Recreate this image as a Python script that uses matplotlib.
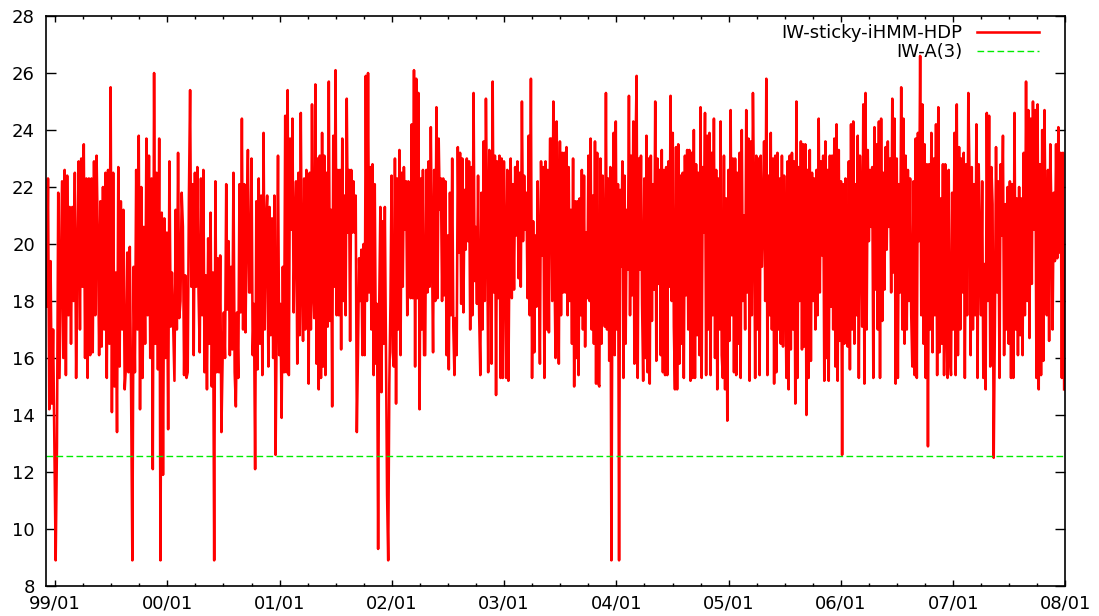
import numpy as np
import matplotlib
matplotlib.use("Agg")
import matplotlib.pyplot as plt
from matplotlib.ticker import MultipleLocator, FuncFormatter

# values, one list per stretch of time
SEGMENT_EDGES = [1998.926, 2000.053, 2001.179, 2002.297, 2003.419,
                 2004.541, 2005.663, 2006.785, 2007.988]

seg_1999 = [17.8, 22.3, 14.2, 19.4, 14.4, 17.0, 13.1, 8.9, 12.9, 21.8, 15.3, 18.8, 22.2, 16.0, 22.6,
            15.4, 22.4, 17.5, 21.3, 16.5, 21.3, 18.0, 22.5, 15.3, 19.6, 22.9, 17.0, 23.0, 18.5,
            23.5, 16.0, 22.3, 15.3, 22.3, 16.1, 22.3, 16.2, 22.9, 17.5, 23.1, 20.2, 16.1, 21.5,
            16.4, 22.0, 17.0, 22.5, 15.3, 22.6, 16.5, 25.5, 14.1, 22.5, 15.0, 19.0, 13.4, 22.7,
            15.7, 21.5, 17.0, 21.2, 14.9, 15.7, 19.7, 15.5, 19.9, 14.9, 8.9, 19.2, 15.5, 22.6,
            17.0, 23.8, 14.2, 22.0, 15.3, 20.6, 16.5, 23.7, 17.5, 23.1, 16.0, 22.3, 12.1, 26.0,
            16.5, 22.5, 15.6, 23.7, 8.9, 21.1, 11.9, 20.9, 16.0, 20.4, 13.5, 22.9, 17.1, 19.0]

seg_2000 = [17.1, 15.2, 21.2, 17.0, 23.2, 17.4, 18.0, 21.8, 20.6, 15.4, 18.9, 15.3, 15.5, 21.6,
            25.4, 18.5, 22.1, 16.1, 22.5, 18.5, 22.7, 18.3, 16.2, 22.3, 17.5, 22.6, 15.5, 18.9,
            14.9, 20.2, 16.5, 21.1, 15.0, 19.0, 8.9, 22.2, 15.5, 19.5, 15.5, 19.6, 13.4, 16.0,
            17.6, 16.0, 22.1, 17.7, 20.1, 16.1, 19.2, 16.3, 22.5, 15.5, 14.3, 17.6, 15.3, 22.1,
            17.6, 24.4, 17.0, 22.1, 16.9, 20.6, 23.3, 18.3, 18.3, 23.0, 16.1, 17.9, 12.1, 21.5,
            15.6, 22.3, 16.5, 21.7, 15.4, 23.9, 17.0, 20.7, 21.7, 15.7, 21.3, 16.8, 20.9, 16.0,
            21.7, 12.6, 17.6, 23.1, 16.1, 17.9, 13.9, 19.2, 15.5, 24.5, 15.5, 25.4, 15.4, 23.7,
            20.5, 24.4, 17.6, 20.6, 22.2, 15.8, 22.5]

seg_2001 = [16.8, 24.6, 18.8, 16.6, 22.3, 17.0, 22.6, 20.8, 15.1, 22.5, 17.0, 24.9, 18.3, 17.4,
            25.6, 15.8, 23.0, 14.9, 23.1, 15.3, 23.9, 15.7, 23.1, 15.4, 22.5, 17.1, 25.7, 17.3,
            21.2, 14.3, 23.8, 18.5, 26.1, 17.5, 22.6, 17.5, 22.6, 16.3, 23.7, 18.0, 21.7, 17.5,
            25.1, 20.4, 22.6, 16.6, 22.6, 20.4, 22.2, 20.4, 21.7, 13.4, 16.1, 19.5, 18.0, 19.8,
            16.1, 20.0, 16.1, 25.9, 18.0, 26.0, 18.3, 22.7, 17.0, 22.8, 15.4, 22.1, 15.8, 17.9,
            9.3, 17.9, 21.3, 14.8, 20.8, 16.5, 21.3, 16.0, 11.2, 8.9, 15.1, 17.9, 22.4, 16.2,
            15.7, 23.0, 14.4, 22.3, 17.0, 23.3, 16.1, 22.5, 18.5, 22.7, 20.5, 22.2, 17.5, 22.2,
            19.2, 18.1, 24.2, 18.1, 26.1, 15.7, 25.8, 18.1, 25.3, 14.2, 22.3, 17.0, 22.6, 16.1]

seg_2002 = [16.1, 22.6, 18.3, 22.9, 18.5, 24.1, 19.8, 16.2, 22.6, 18.0, 24.8, 18.1, 23.7, 21.2,
            22.3, 18.0, 22.3, 18.2, 22.2, 16.1, 20.3, 15.6, 21.8, 17.5, 23.0, 17.1, 15.4, 17.4,
            16.1, 23.4, 19.7, 23.2, 17.9, 23.0, 17.6, 21.9, 19.8, 23.0, 20.1, 22.9, 17.0, 22.7,
            17.5, 25.3, 18.7, 20.6, 17.9, 22.4, 17.5, 15.4, 21.8, 17.0, 23.6, 18.0, 25.1, 21.0,
            15.5, 23.3, 21.2, 15.8, 25.7, 18.3, 23.1, 14.7, 22.9, 18.1, 23.1, 15.3, 23.0, 15.3,
            22.9, 20.0, 15.3, 22.6, 15.2, 20.1, 23.0, 18.1, 22.1, 18.4, 22.7, 20.3, 22.9, 18.8,
            22.5, 18.5, 25.0, 20.1, 22.4, 20.5, 21.8, 18.1, 23.8, 17.5, 25.8, 15.3, 20.8, 16.2,
            20.3, 17.8, 22.2, 19.5, 15.8, 22.9, 19.6, 22.7, 15.3, 22.9, 17.0, 22.6, 16.9, 23.7]

seg_2003 = [23.7, 18.0, 25.0, 19.2, 16.0, 24.3, 20.4, 15.8, 23.6, 17.5, 23.2, 18.3, 23.2, 18.3,
            23.4, 17.5, 22.7, 18.0, 21.2, 16.5, 23.0, 15.0, 21.5, 16.0, 21.5, 15.4, 21.6, 17.5,
            22.6, 17.0, 22.4, 16.4, 20.4, 18.1, 23.1, 18.0, 23.7, 17.0, 21.7, 16.5, 23.6, 15.1,
            23.2, 15.1, 15.0, 23.0, 16.5, 22.4, 18.3, 17.1, 25.3, 17.0, 22.3, 15.9, 22.7, 8.9,
            19.9, 23.9, 16.1, 24.3, 17.0, 22.1, 8.9, 21.9, 19.2, 22.9, 15.3, 22.4, 16.5, 21.2,
            19.1, 25.2, 17.5, 23.1, 18.2, 24.3, 15.8, 23.2, 25.9, 15.3, 23.0, 19.1, 23.1, 17.9,
            15.2, 22.3, 16.0, 23.8, 15.5, 23.0, 15.1, 23.1, 17.3, 22.1, 18.4, 25.0, 15.9, 23.0,
            18.6, 22.6, 16.1, 23.3, 15.5, 22.6, 15.4, 22.7, 15.4, 22.9, 18.5, 25.2, 18.0, 23.9,
            17.1, 14.9, 23.4]

seg_2004 = [14.9, 23.5, 15.8, 22.4, 16.5, 22.5, 15.3, 23.1, 18.2, 23.3, 17.0, 23.3, 15.2, 23.2,
            15.3, 24.0, 15.3, 22.8, 16.8, 22.5, 16.1, 24.8, 15.3, 22.7, 20.4, 24.6, 15.4, 23.8,
            17.0, 23.9, 15.4, 23.2, 17.5, 24.4, 16.0, 22.6, 14.9, 22.3, 17.0, 24.3, 16.1, 15.3,
            23.1, 14.9, 21.6, 13.8, 22.6, 16.6, 24.7, 17.5, 23.0, 15.5, 23.0, 15.4, 22.5, 16.5,
            23.2, 15.3, 24.0, 18.0, 21.0, 17.0, 24.7, 18.3, 23.7, 15.2, 23.6, 17.5, 25.3, 21.6,
            15.3, 23.1, 17.0, 23.0, 15.4, 23.1, 19.2, 20.9, 23.6, 18.0, 25.8, 15.4, 22.4, 17.5,
            23.9, 17.0, 23.0, 15.1, 23.1, 15.5, 23.2, 17.0, 22.3, 16.5, 23.1, 16.4, 22.4, 19.6,
            15.3, 22.9, 14.9, 23.1, 16.3, 23.2, 17.0, 22.9, 14.4, 25.0, 15.3, 22.7, 18.0, 23.6,
            16.3]

seg_2005 = [23.5, 16.4, 23.5, 14.0, 22.6, 15.3, 23.3, 15.9, 22.5, 18.0, 22.3, 17.0, 22.6, 17.5,
            24.4, 18.3, 22.9, 19.6, 23.1, 15.2, 23.6, 16.0, 22.6, 15.2, 23.1, 17.8, 23.1, 17.0,
            23.7, 15.7, 24.2, 15.2, 23.3, 16.6, 22.2, 12.6, 22.1, 16.5, 22.3, 17.8, 16.4, 22.9,
            15.6, 24.2, 17.0, 24.3, 16.5, 22.1, 17.5, 23.8, 15.3, 23.1, 20.9, 17.1, 24.9, 15.1,
            25.3, 17.0, 23.3, 20.1, 22.6, 20.6, 22.7, 15.3, 24.1, 18.4, 23.5, 17.0, 24.3, 15.3,
            24.4, 17.3, 22.5, 18.4, 23.4, 19.8, 23.6, 20.6, 23.0, 18.3, 25.1, 19.0, 24.4, 15.1,
            23.0, 15.3, 22.1, 18.3, 25.5, 17.0, 24.4, 16.5, 23.1, 17.0, 22.6, 18.0, 22.3, 17.5,
            15.7, 22.2, 15.4, 23.7, 15.3, 23.9, 20.1, 26.6, 17.5, 24.9, 16.5, 23.5, 15.3, 22.8,
            12.9]

seg_2006 = [22.8, 17.0, 23.9, 16.2, 23.0, 17.5, 24.2, 15.4, 24.8, 16.2, 21.6, 16.5, 22.8, 15.4,
            22.8, 17.6, 15.3, 22.6, 16.1, 15.4, 21.8, 17.0, 23.9, 15.4, 24.9, 16.1, 23.4, 17.0,
            23.0, 18.3, 23.2, 15.3, 22.8, 17.5, 25.3, 22.5, 16.1, 22.7, 17.0, 22.1, 17.5, 24.2,
            15.3, 22.8, 19.7, 17.5, 22.2, 15.3, 19.3, 14.9, 24.6, 18.0, 24.5, 15.7, 22.7, 21.4,
            12.5, 17.1, 23.4, 18.3, 22.2, 15.3, 22.8, 20.3, 23.8, 16.1, 21.4, 17.0, 22.0, 16.5,
            22.2, 15.3, 22.1, 15.3, 24.6, 17.0, 21.6, 16.1, 22.0, 16.8, 21.6, 16.1, 23.2, 17.5,
            25.7, 18.0, 24.7, 16.7, 24.4, 18.6, 25.0, 20.5, 24.7, 15.3, 24.9, 14.9, 22.8, 15.4,
            24.0, 15.9, 24.7, 19.8, 17.5, 22.6, 16.6, 23.5, 21.0, 17.0, 21.8, 19.4, 23.5, 19.5,
            24.1, 19.7, 23.2, 15.3, 23.2, 14.9]

SEGMENTS = [seg_1999, seg_2000, seg_2001, seg_2002, seg_2003, seg_2004, seg_2005, seg_2006]

IW_A3_LEVEL = 12.55

YEARS = list(range(1999, 2009))


def build_series():
    xs, ys = [], []
    for i, seg in enumerate(SEGMENTS):
        last = i == len(SEGMENTS) - 1
        x = np.linspace(SEGMENT_EDGES[i], SEGMENT_EDGES[i + 1], len(seg), endpoint=last)
        xs.append(x)
        ys.append(np.array(seg))
    return np.concatenate(xs), np.concatenate(ys)


fig = plt.figure(figsize=(10.99, 6.16), dpi=100)
ax = fig.add_axes([0.0419, 0.0487, 0.9276, 0.9253])

x, y = build_series()
ax.plot(x, y, color="#ff0000", linewidth=1.85, label="IW-sticky-iHMM-HDP")
ax.axhline(IW_A3_LEVEL, color="#00ee00", linewidth=1.0, dashes=(4.8, 2.4), label="IW-A(3)")

ax.set_xlim(1998.92, 2008.0)
ax.set_ylim(8, 28)

ax.xaxis.set_major_locator(MultipleLocator(1.0))
ax.xaxis.set_minor_locator(MultipleLocator(0.25))
ax.xaxis.set_major_formatter(FuncFormatter(lambda v, p: f"{int(round(v)) % 100:02d}/01"))
ax.yaxis.set_major_locator(MultipleLocator(2))

ax.tick_params(axis="both", which="both", direction="in", top=True, right=True,
               labelsize=13, width=1.0, color="black")
ax.tick_params(axis="y", which="major", length=7.5, pad=8)
ax.tick_params(axis="x", which="major", length=4.5, pad=6)
ax.tick_params(axis="x", which="minor", length=2.3)

for s in ax.spines.values():
    s.set_linewidth(1.2)

ax.legend(loc="upper right", bbox_to_anchor=(0.974, 0.986), frameon=False,
          markerfirst=False, fontsize=13, handlelength=3.45, handletextpad=0.8,
          labelspacing=0.05, borderpad=0, borderaxespad=0)

fig.savefig("out.png", dpi=100)
